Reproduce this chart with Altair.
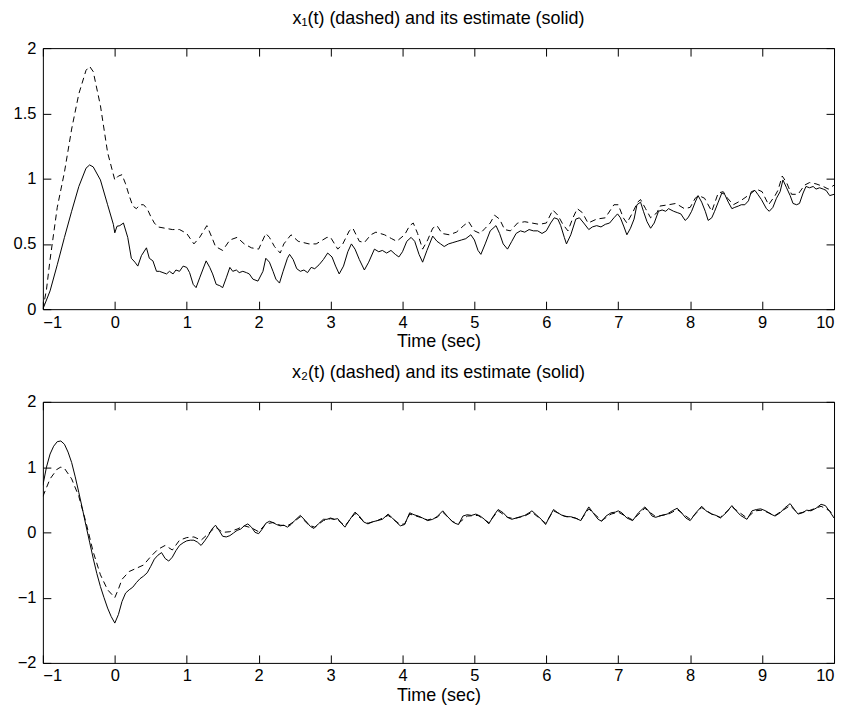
import altair as alt
import pandas as pd

# ---------------- data ----------------
# x1 true state (dashed)
t_x1 = [-1.0, -0.95, -0.9, -0.8, -0.7, -0.6, -0.5, -0.4, -0.35, -0.3, -0.2, -0.1, 0.0,
        0.05, 0.1, 0.15, 0.2, 0.25, 0.3, 0.35, 0.4, 0.45, 0.5, 0.55, 0.6, 0.7, 0.8, 0.9,
        1.0, 1.05, 1.1, 1.18, 1.28, 1.35, 1.4, 1.5, 1.6, 1.7, 1.8, 1.9, 2.0, 2.1, 2.15,
        2.22, 2.3, 2.35, 2.45, 2.55, 2.7, 2.8, 2.95, 3.0, 3.1, 3.17, 3.26, 3.31, 3.4,
        3.47, 3.56, 3.63, 3.75, 3.85, 3.92, 4.03, 4.1, 4.15, 4.21, 4.28, 4.35, 4.42,
        4.48, 4.55, 4.65, 4.75, 4.85, 4.92, 5.0, 5.08, 5.15, 5.22, 5.28, 5.35, 5.42,
        5.5, 5.6, 5.7, 5.8, 5.9, 6.0, 6.09, 6.16, 6.23, 6.3, 6.37, 6.43, 6.5, 6.58,
        6.7, 6.82, 6.94, 7.0, 7.07, 7.12, 7.2, 7.27, 7.31, 7.38, 7.45, 7.54, 7.58, 7.7,
        7.8, 7.92, 8.0, 8.07, 8.12, 8.2, 8.3, 8.39, 8.46, 8.52, 8.6, 8.7, 8.83, 8.92,
        9.0, 9.09, 9.18, 9.22, 9.28, 9.34, 9.41, 9.5, 9.59, 9.66, 9.75, 9.85, 9.92, 10.0]
x1 = [0.0, 0.15, 0.38, 0.78, 1.05, 1.38, 1.65, 1.83, 1.86, 1.82, 1.56, 1.2, 0.99,
      1.02, 1.03, 0.96, 0.87, 0.79, 0.77, 0.8, 0.8, 0.77, 0.71, 0.66, 0.63, 0.62, 0.61, 0.61,
      0.58, 0.54, 0.5, 0.55, 0.64, 0.55, 0.48, 0.45, 0.53, 0.55, 0.5, 0.47, 0.46, 0.58, 0.55,
      0.48, 0.43, 0.5, 0.57, 0.52, 0.5, 0.5, 0.55, 0.55, 0.46, 0.5, 0.6, 0.62, 0.52,
      0.51, 0.57, 0.59, 0.57, 0.54, 0.52, 0.57, 0.64, 0.66, 0.58, 0.46, 0.53, 0.62,
      0.64, 0.58, 0.57, 0.59, 0.64, 0.67, 0.6, 0.58, 0.62, 0.66, 0.72, 0.69, 0.61,
      0.6, 0.66, 0.67, 0.66, 0.65, 0.66, 0.76, 0.72, 0.65, 0.6, 0.7, 0.77, 0.74, 0.66,
      0.69, 0.7, 0.8, 0.8, 0.7, 0.66, 0.74, 0.82, 0.84, 0.77, 0.7, 0.74, 0.79, 0.8,
      0.81, 0.77, 0.78, 0.85, 0.87, 0.85, 0.75, 0.89, 0.9, 0.85, 0.8, 0.83, 0.88, 0.92,
      0.9, 0.8, 0.87, 0.91, 1.02, 0.97, 0.88, 0.88, 0.95, 0.97, 0.96, 0.94, 0.92, 0.95]

# x1 estimate (solid)
t_x1_hat = [-1.0, -0.9, -0.8, -0.7, -0.6, -0.5, -0.4, -0.35, -0.3, -0.2, -0.1, -0.02, 0.0,
            0.03, 0.07, 0.12, 0.18, 0.23, 0.28, 0.32, 0.37, 0.44, 0.48, 0.53, 0.58, 0.62,
            0.67, 0.72, 0.76, 0.81, 0.85, 0.9, 0.95, 1.0, 1.04, 1.09, 1.13, 1.18, 1.27, 1.32,
            1.36, 1.41, 1.46, 1.5, 1.55, 1.6, 1.64, 1.69, 1.73, 1.78, 1.83, 1.87, 1.92, 1.99,
            2.06, 2.1, 2.15, 2.2, 2.24, 2.29, 2.34, 2.4, 2.43, 2.48, 2.53, 2.58, 2.63, 2.68,
            2.73, 2.78, 2.84, 2.9, 2.96, 3.02, 3.07, 3.12, 3.18, 3.24, 3.29, 3.34, 3.4, 3.47,
            3.53, 3.61, 3.67, 3.72, 3.78, 3.84, 3.9, 3.95, 4.0, 4.06, 4.12, 4.17, 4.23, 4.28,
            4.34, 4.42, 4.48, 4.53, 4.58, 4.64, 4.7, 4.76, 4.82, 4.88, 4.95, 5.0, 5.05, 5.09,
            5.15, 5.22, 5.3, 5.35, 5.4, 5.46, 5.52, 5.58, 5.64, 5.7, 5.76, 5.82, 5.88, 5.94,
            6.0, 6.06, 6.11, 6.16, 6.2, 6.25, 6.28, 6.34, 6.41, 6.46, 6.52, 6.59, 6.64, 6.7,
            6.76, 6.82, 6.88, 6.94, 6.99, 7.03, 7.08, 7.12, 7.17, 7.22, 7.26, 7.31, 7.35, 7.4,
            7.45, 7.5, 7.56, 7.61, 7.66, 7.7, 7.77, 7.82, 7.87, 7.93, 7.97, 8.02, 8.07, 8.11,
            8.16, 8.21, 8.25, 8.3, 8.34, 8.39, 8.44, 8.48, 8.53, 8.58, 8.62, 8.67, 8.71, 8.76,
            8.81, 8.85, 8.9, 8.94, 8.99, 9.06, 9.1, 9.15, 9.2, 9.25, 9.29, 9.34, 9.39, 9.43,
            9.48, 9.52, 9.57, 9.61, 9.66, 9.71, 9.75, 9.8, 9.85, 9.89, 9.94, 10.0]
x1_hat = [0.0, 0.14, 0.34, 0.55, 0.75, 0.94, 1.08, 1.105, 1.09, 0.99, 0.8, 0.65, 0.585,
          0.635, 0.64, 0.66, 0.55, 0.39, 0.36, 0.33, 0.41, 0.47, 0.39, 0.37, 0.29, 0.29,
          0.28, 0.27, 0.29, 0.27, 0.3, 0.29, 0.33, 0.32, 0.28, 0.19, 0.165, 0.24, 0.37, 0.32,
          0.27, 0.19, 0.18, 0.165, 0.24, 0.32, 0.29, 0.3, 0.28, 0.29, 0.28, 0.27, 0.23, 0.215,
          0.29, 0.39, 0.36, 0.29, 0.23, 0.2, 0.29, 0.39, 0.42, 0.38, 0.31, 0.29, 0.3, 0.28,
          0.32, 0.31, 0.34, 0.38, 0.43, 0.4, 0.33, 0.27, 0.33, 0.44, 0.5, 0.46, 0.38, 0.3,
          0.36, 0.46, 0.44, 0.45, 0.43, 0.45, 0.42, 0.4, 0.44, 0.52, 0.55, 0.52, 0.42, 0.36,
          0.45, 0.56, 0.52, 0.5, 0.48, 0.5, 0.51, 0.52, 0.53, 0.54, 0.57, 0.53, 0.45, 0.42,
          0.5, 0.6, 0.64, 0.58, 0.5, 0.46, 0.52, 0.58, 0.6, 0.59, 0.61, 0.6, 0.6, 0.58,
          0.6, 0.66, 0.7, 0.69, 0.64, 0.55, 0.5, 0.57, 0.69, 0.7, 0.66, 0.61, 0.63, 0.64,
          0.63, 0.65, 0.66, 0.7, 0.73, 0.7, 0.63, 0.57, 0.62, 0.69, 0.8, 0.82, 0.75, 0.67,
          0.62, 0.66, 0.75, 0.76, 0.75, 0.77, 0.75, 0.74, 0.73, 0.68, 0.7, 0.75, 0.82, 0.87,
          0.82, 0.75, 0.68, 0.7, 0.75, 0.82, 0.89, 0.88, 0.82, 0.77, 0.78, 0.79, 0.8, 0.8,
          0.83, 0.9, 0.91, 0.88, 0.84, 0.77, 0.75, 0.78, 0.85, 0.9, 0.99, 0.93, 0.87, 0.81,
          0.8, 0.81, 0.89, 0.94, 0.93, 0.94, 0.92, 0.93, 0.92, 0.91, 0.87, 0.88]

# x2 true state (dashed)
t_x2 = [-1.0, -0.9, -0.8, -0.75, -0.7, -0.6, -0.5, -0.4, -0.3, -0.2, -0.1, 0.0, 0.05, 0.1,
        0.2, 0.3, 0.4, 0.5, 0.6, 0.7, 0.8, 0.9, 1.0, 1.1, 1.2, 1.3, 1.4, 1.5, 1.6, 1.7,
        1.8, 1.9, 2.0, 2.1, 2.2, 2.3, 2.4, 2.5, 2.58, 2.7, 2.78, 2.9, 3.0, 3.1, 3.2, 3.34,
        3.46, 3.52, 3.65, 3.8, 3.97, 4.03, 4.1, 4.25, 4.35, 4.48, 4.56, 4.7, 4.78, 4.9,
        5.05, 5.2, 5.33, 5.46, 5.55, 5.7, 5.8, 5.99, 6.1, 6.25, 6.4, 6.48, 6.59, 6.77, 6.9,
        7.0, 7.2, 7.37, 7.52, 7.7, 7.82, 8.0, 8.16, 8.3, 8.42, 8.58, 8.79, 8.9, 9.0, 9.18,
        9.39, 9.5, 9.62, 9.82, 9.94, 10.0]
x2 = [0.55, 0.82, 0.97, 1.0, 0.98, 0.82, 0.55, 0.15, -0.3, -0.65, -0.88, -1.0, -0.87, -0.72,
      -0.6, -0.55, -0.5, -0.37, -0.26, -0.2, -0.27, -0.12, -0.08, -0.07, -0.12, -0.02, 0.08,
      0.0, 0.01, 0.05, 0.1, 0.07, 0.01, 0.13, 0.15, 0.11, 0.1, 0.17, 0.24, 0.11, 0.08, 0.18,
      0.21, 0.19, 0.1, 0.29, 0.17, 0.14, 0.18, 0.26, 0.12, 0.13, 0.28, 0.23, 0.19, 0.23,
      0.31, 0.16, 0.14, 0.25, 0.26, 0.15, 0.33, 0.23, 0.21, 0.25, 0.31, 0.14, 0.33, 0.25,
      0.22, 0.19, 0.36, 0.18, 0.28, 0.31, 0.19, 0.37, 0.24, 0.28, 0.35, 0.2, 0.38, 0.28,
      0.23, 0.39, 0.22, 0.33, 0.34, 0.26, 0.41, 0.29, 0.32, 0.4, 0.33, 0.25]

# x2 estimate (solid)
t_x2_hat = [-1.0, -0.95, -0.9, -0.85, -0.8, -0.75, -0.7, -0.65, -0.6, -0.55, -0.5, -0.45,
            -0.4, -0.35, -0.3, -0.25, -0.2, -0.15, -0.1, -0.05, 0.0, 0.05, 0.1, 0.15, 0.2,
            0.25, 0.3, 0.35, 0.4, 0.45, 0.5, 0.55, 0.6, 0.65, 0.7, 0.75, 0.8, 0.85, 0.9,
            0.95, 1.0, 1.05, 1.1, 1.15, 1.2, 1.25, 1.3, 1.35, 1.4, 1.45, 1.5, 1.55, 1.6,
            1.65, 1.7, 1.75, 1.8, 1.85, 1.9, 1.95, 2.0, 2.05, 2.1, 2.15, 2.2, 2.25, 2.3,
            2.35, 2.4, 2.45, 2.5, 2.58, 2.65, 2.72, 2.77, 2.83, 2.9, 2.95, 3.0, 3.05, 3.1,
            3.15, 3.2, 3.27, 3.34, 3.4, 3.46, 3.52, 3.58, 3.65, 3.72, 3.8, 3.86, 3.92, 3.97,
            4.03, 4.1, 4.16, 4.22, 4.28, 4.35, 4.42, 4.48, 4.56, 4.62, 4.68, 4.73, 4.78,
            4.84, 4.9, 4.96, 5.02, 5.08, 5.14, 5.2, 5.27, 5.33, 5.4, 5.46, 5.52, 5.58, 5.64,
            5.7, 5.76, 5.8, 5.86, 5.93, 5.99, 6.05, 6.1, 6.16, 6.22, 6.28, 6.34, 6.4, 6.48,
            6.53, 6.59, 6.65, 6.72, 6.77, 6.83, 6.9, 6.96, 7.0, 7.05, 7.12, 7.2, 7.28, 7.37,
            7.42, 7.47, 7.52, 7.6, 7.68, 7.75, 7.82, 7.88, 7.94, 8.0, 8.08, 8.16, 8.22, 8.3,
            8.36, 8.42, 8.5, 8.58, 8.64, 8.7, 8.79, 8.86, 8.92, 8.98, 9.05, 9.12, 9.18, 9.25,
            9.32, 9.39, 9.45, 9.5, 9.56, 9.62, 9.68, 9.75, 9.82, 9.88, 9.94, 10.0]
x2_hat = [0.72, 1.0, 1.2, 1.32, 1.39, 1.4, 1.35, 1.23, 1.07, 0.85, 0.61, 0.36,
          0.1, -0.15, -0.4, -0.63, -0.83, -1.0, -1.16, -1.29, -1.39, -1.26, -1.06, -0.93, -0.88,
          -0.84, -0.77, -0.71, -0.67, -0.62, -0.52, -0.41, -0.35, -0.31, -0.4, -0.44, -0.38,
          -0.28, -0.2, -0.16, -0.13, -0.12, -0.12, -0.15, -0.2, -0.13, -0.05, 0.05, 0.11, 0.03,
          -0.06, -0.07, -0.05, -0.01, 0.03, 0.05, 0.1, 0.13, 0.08, 0.0, -0.02, 0.05, 0.14, 0.17,
          0.15, 0.12, 0.1, 0.11, 0.08, 0.12, 0.18, 0.26, 0.18, 0.09, 0.06, 0.13, 0.2, 0.2,
          0.22, 0.2, 0.21, 0.14, 0.08, 0.2, 0.31, 0.25, 0.16, 0.13, 0.16, 0.18, 0.2, 0.28,
          0.22, 0.15, 0.1, 0.12, 0.3, 0.27, 0.25, 0.22, 0.18, 0.2, 0.24, 0.33, 0.25, 0.18,
          0.14, 0.12, 0.25, 0.27, 0.26, 0.28, 0.25, 0.2, 0.13, 0.26, 0.35, 0.3, 0.23, 0.2,
          0.22, 0.24, 0.26, 0.3, 0.33, 0.27, 0.2, 0.12, 0.25, 0.35, 0.3, 0.26, 0.24, 0.24,
          0.22, 0.18, 0.28, 0.39, 0.3, 0.2, 0.17, 0.25, 0.3, 0.31, 0.33, 0.3, 0.22, 0.18,
          0.3, 0.39, 0.33, 0.25, 0.23, 0.26, 0.28, 0.33, 0.37, 0.3, 0.22, 0.18, 0.3, 0.4,
          0.33, 0.28, 0.26, 0.22, 0.3, 0.41, 0.33, 0.26, 0.2, 0.33, 0.35, 0.36, 0.33, 0.28,
          0.25, 0.3, 0.38, 0.44, 0.35, 0.28, 0.3, 0.34, 0.33, 0.37, 0.43, 0.41, 0.32, 0.22]

x_ticks = list(range(-1, 11))
y1_ticks = [0, 0.5, 1, 1.5, 2]
y2_ticks = [-2, -1, 0, 1, 2]

FONT = "Liberation Sans"
W, H = 794, 262
TICK = 8
LABEL_SIZE = 16.5
TITLE_SIZE = 18


def panel(t_true, v_true, t_est, v_est, title, ydom, yticks):
    df_true = pd.DataFrame({"t": t_true, "v": v_true})
    df_est = pd.DataFrame({"t": t_est, "v": v_est})
    xscale = alt.Scale(domain=[-1, 10], nice=False, zero=False)
    yscale = alt.Scale(domain=ydom, nice=False, zero=False)
    common = dict(offset=-TICK, tickSize=TICK, tickColor="black", tickWidth=1,
                  domain=False, grid=False,
                  labelFont=FONT, labelFontSize=LABEL_SIZE, labelColor="black",
                  titleFont=FONT, titleFontSize=TITLE_SIZE, titleColor="black",
                  titleFontWeight="normal", format="~r")

    dashed = alt.Chart(df_true).mark_line(
        color="black", strokeWidth=1, strokeDash=[6, 4], clip=True
    ).encode(
        x=alt.X("t:Q", scale=xscale,
                axis=alt.Axis(orient="bottom", values=x_ticks, labelPadding=5,
                              title="Time (sec)", titlePadding=2, **common)),
        y=alt.Y("v:Q", scale=yscale,
                axis=alt.Axis(orient="left", values=yticks, labelPadding=7, title=None,
                              **common)),
    )
    solid = alt.Chart(df_est).mark_line(
        color="black", strokeWidth=1, clip=True
    ).encode(
        x=alt.X("t:Q", scale=xscale,
                axis=alt.Axis(orient="top", values=x_ticks, labels=False, title=None,
                              **common)),
        y=alt.Y("v:Q", scale=yscale,
                axis=alt.Axis(orient="right", values=yticks, labels=False, title=None,
                              **common)),
    )
    return alt.layer(dashed, solid).resolve_axis(x="independent", y="independent").properties(
        width=W, height=H,
        title=alt.Title(title, font=FONT, fontSize=TITLE_SIZE, fontWeight="normal",
                        color="black", offset=12),
    )


top = panel(t_x1, x1, t_x1_hat, x1_hat, "x\u2081(t) (dashed) and its estimate (solid)",
            [0, 2], y1_ticks)
bottom = panel(t_x2, x2, t_x2_hat, x2_hat, "x\u2082(t) (dashed) and its estimate (solid)",
               [-2, 2], y2_ticks)

chart = alt.vconcat(top, bottom, spacing=12).properties(
    padding={"left": 4, "top": 0, "right": 5, "bottom": 0},
    background="white",
).configure_view(
    stroke="black", strokeWidth=1
)

chart.save("out.html", embed_options={"renderer": "svg", "actions": False})
